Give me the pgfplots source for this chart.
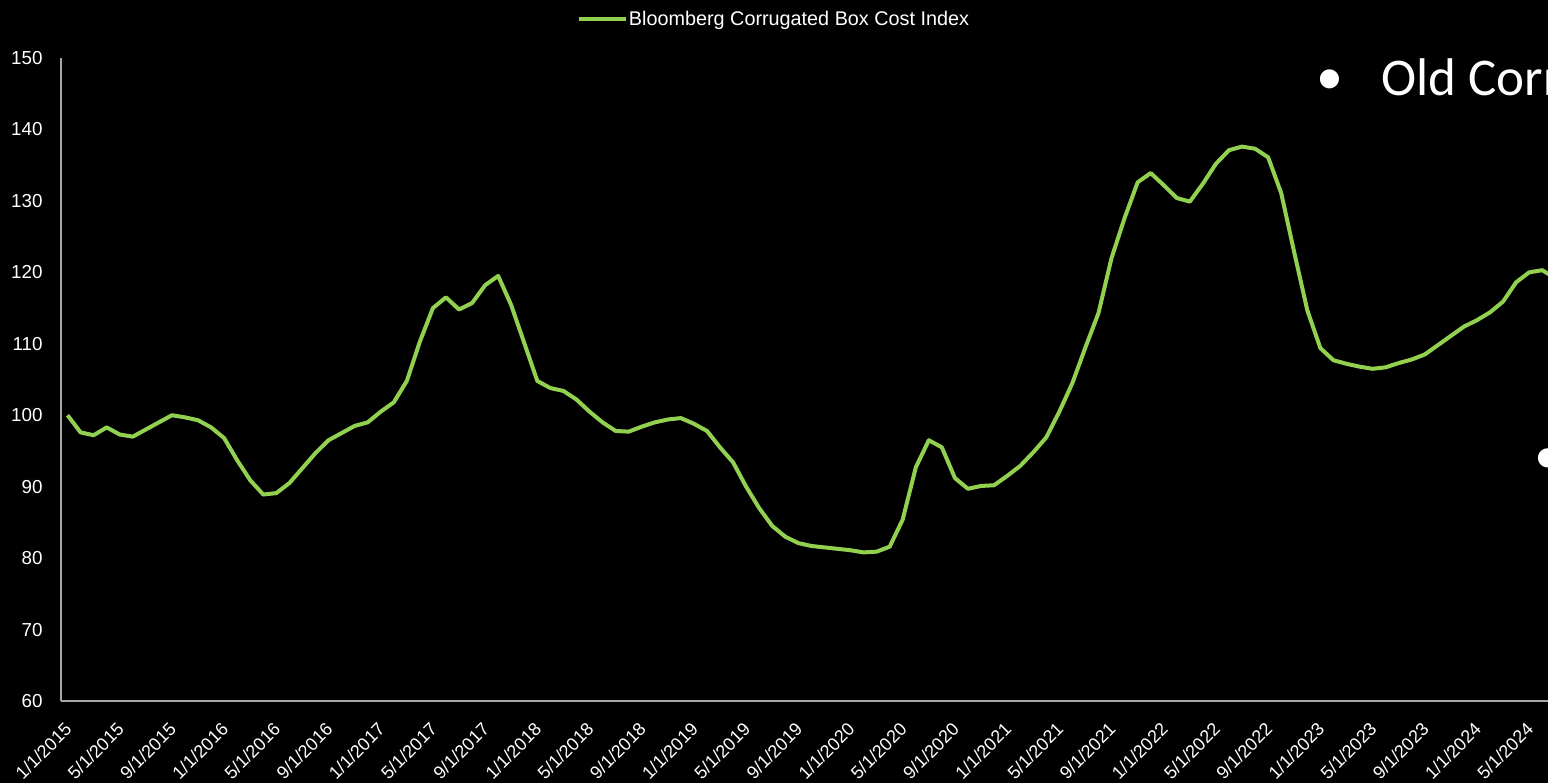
\documentclass[border=0pt]{standalone}
\usepackage{fontspec}
\setmainfont{Liberation Sans}
\newfontfamily\carlito{Carlito}
\usepackage{pgfplots}
\pgfplotsset{compat=1.18}
\definecolor{boxgreen}{HTML}{92D050}
\definecolor{axgray}{HTML}{A6A6A6}
\begin{document}
\begin{tikzpicture}
\useasboundingbox (0,0) rectangle (774bp,391.5bp);
\fill[black] (0,0) rectangle (774bp,391.5bp);
\clip (0,0) rectangle (774bp,391.5bp);
\begin{axis}[
  at={(30.5bp,41bp)}, anchor=south west,
  scale only axis, width=783bp, height=321.5bp,
  xmin=-0.5, xmax=119.5, ymin=60, ymax=150,
  axis x line=bottom, axis y line=left,
  axis line style={axgray, line width=1bp, -},
  major tick length=0pt,
  ytick={60,70,...,150},
  xtick={0,4,...,112},
  xticklabels={1/1/2015,5/1/2015,9/1/2015,1/1/2016,5/1/2016,9/1/2016,1/1/2017,5/1/2017,9/1/2017,1/1/2018,5/1/2018,9/1/2018,1/1/2019,5/1/2019,9/1/2019,1/1/2020,5/1/2020,9/1/2020,1/1/2021,5/1/2021,9/1/2021,1/1/2022,5/1/2022,9/1/2022,1/1/2023,5/1/2023,9/1/2023,1/1/2024,5/1/2024},
  yticklabel style={font=\fontsize{9.4bp}{11bp}\selectfont, text=white, anchor=east, inner sep=0pt, xshift=-9bp},
  xticklabel style={font=\fontsize{9bp}{11bp}\selectfont, text=white, xshift=-2bp, yshift=-10bp, rotate=45, anchor=north east, inner sep=0pt},
  /pgf/number format/assume math mode=true,
  legend style={at={(axis description cs:0.3295,1.0599)}, anchor=west, draw=none, fill=none,
    text=white, font=\fontsize{9.9bp}{12bp}\selectfont, inner sep=0pt, nodes={inner sep=0.3bp}},
  legend image code/.code={\draw[#1] (0bp,0bp) -- (23.5bp,0bp);},
]
\addplot[boxgreen, line width=2bp, line join=round] table[x=i, y=v] {
i v
0 100.0
1 97.6
2 97.2
3 98.3
4 97.3
5 97.0
6 98.0
7 99.0
8 100.0
9 99.7
10 99.3
11 98.3
12 96.8
13 93.7
14 90.9
15 88.9
16 89.1
17 90.5
18 92.6
19 94.7
20 96.5
21 97.5
22 98.5
23 99.0
24 100.5
25 101.8
26 104.8
27 110.3
28 115.0
29 116.5
30 114.8
31 115.7
32 118.2
33 119.5
34 115.4
35 110.1
36 104.8
37 103.8
38 103.4
39 102.2
40 100.5
41 99.0
42 97.8
43 97.7
44 98.4
45 99.0
46 99.4
47 99.6
48 98.8
49 97.8
50 95.5
51 93.4
52 90.0
53 87.0
54 84.5
55 83.0
56 82.1
57 81.7
58 81.5
59 81.3
60 81.1
61 80.8
62 80.9
63 81.6
64 85.4
65 92.7
66 96.5
67 95.5
68 91.2
69 89.7
70 90.1
71 90.2
72 91.5
73 92.9
74 94.8
75 96.9
76 100.5
77 104.5
78 109.5
79 114.3
80 122.0
81 127.6
82 132.6
83 133.9
84 132.2
85 130.4
86 129.9
87 132.4
88 135.2
89 137.1
90 137.6
91 137.3
92 136.1
93 131.1
94 122.8
95 114.7
96 109.4
97 107.7
98 107.2
99 106.8
100 106.5
101 106.7
102 107.3
103 107.8
104 108.5
105 109.8
106 111.1
107 112.4
108 113.3
109 114.4
110 115.9
111 118.6
112 120.0
113 120.3
114 119.2
};
\addlegendentry{Bloomberg Corrugated Box Cost Index}
\end{axis}
\node[anchor=center, text=white, inner sep=0pt, font=\carlito\fontsize{27bp}{32bp}\selectfont] at (665bp,350.5bp) {•};
\node[anchor=base west, text=white, inner sep=0pt, font=\carlito\fontsize{26.5bp}{32bp}\selectfont] at (690.5bp,343.5bp) {Old Corr};
\node[anchor=center, text=white, inner sep=0pt, font=\carlito\fontsize{27bp}{32bp}\selectfont] at (773.8bp,160.7bp) {•};
\end{tikzpicture}
\end{document}
